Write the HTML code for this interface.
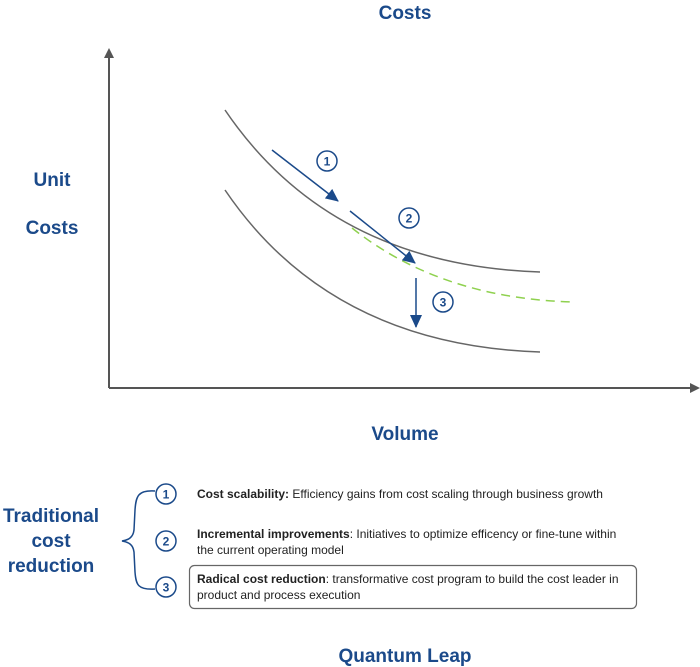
<!DOCTYPE html>
<html><head><meta charset="utf-8"><style>
body{margin:0;background:#fff;}
svg{display:block;font-family:"Liberation Sans",sans-serif;}
.t{fill:#1b4a8a;font-weight:bold;}
.s{font-size:12px;fill:#222;}
</style></head><body>
<svg width="700" height="667" viewBox="0 0 700 667">
<defs>
<marker id="ah" markerWidth="10" markerHeight="10" refX="8" refY="5" orient="auto" markerUnits="userSpaceOnUse"><path d="M0,0 L10,5 L0,10 z" fill="#555"/></marker>
<marker id="bh" markerWidth="14" markerHeight="14" refX="12" refY="7" orient="auto" markerUnits="userSpaceOnUse"><path d="M0,1 L13,7 L0,13 z" fill="#1b4a8a"/></marker>
</defs>
<text x="405" y="19" text-anchor="middle" class="t" font-size="19">Costs</text>
<line x1="109" y1="388" x2="109" y2="50" stroke="#555" stroke-width="2" marker-end="url(#ah)"/>
<line x1="109" y1="388" x2="698" y2="388" stroke="#555" stroke-width="2" marker-end="url(#ah)"/>
<text x="52" y="186" text-anchor="middle" class="t" font-size="19">Unit</text>
<text x="52" y="234" text-anchor="middle" class="t" font-size="19">Costs</text>
<path d="M225,110 Q330,265 540,272" fill="none" stroke="#666" stroke-width="1.5"/>
<path d="M225,190 Q330,345 540,352" fill="none" stroke="#666" stroke-width="1.5"/>
<path d="M352,228 Q440,298 572,302" fill="none" stroke="#8fd14f" stroke-width="1.5" stroke-dasharray="9,6"/>
<line x1="272" y1="150" x2="338" y2="201" stroke="#1b4a8a" stroke-width="1.5" marker-end="url(#bh)"/>
<line x1="350" y1="211" x2="415" y2="263" stroke="#1b4a8a" stroke-width="1.5" marker-end="url(#bh)"/>
<line x1="416" y1="278" x2="416" y2="327" stroke="#1b4a8a" stroke-width="1.5" marker-end="url(#bh)"/>
<g fill="none" stroke="#1b4a8a" stroke-width="1.5">
<circle cx="327" cy="161" r="10"/><circle cx="409" cy="218" r="10"/><circle cx="443" cy="302" r="10"/>
<circle cx="166" cy="494" r="10"/><circle cx="166" cy="541" r="10"/><circle cx="166" cy="587" r="10"/>
<path d="M155,491 C138,490 136,496 135,510 L134,530 C133,538 128,540 122,541 C128,542 133,544 134,552 L135,572 C136,585 138,590 155,589"/>
</g>
<g class="t" font-size="12" text-anchor="middle">
<text x="327" y="165.5">1</text><text x="409" y="222.5">2</text><text x="443" y="306.5">3</text>
<text x="166" y="498.5">1</text><text x="166" y="545.5">2</text><text x="166" y="591.5">3</text>
</g>
<text x="405" y="440" text-anchor="middle" class="t" font-size="19">Volume</text>
<g class="t" font-size="19" text-anchor="middle">
<text x="51" y="522">Traditional</text><text x="51" y="547">cost</text><text x="51" y="572">reduction</text>
</g>
<rect x="189.5" y="565.5" width="447" height="43" rx="5" fill="none" stroke="#666" stroke-width="1.2"/>
<text x="197" y="498" class="s"><tspan font-weight="bold">Cost scalability:</tspan> Efficiency gains from cost scaling through business growth</text>
<text x="197" y="538" class="s"><tspan font-weight="bold">Incremental improvements</tspan>: Initiatives to optimize efficency or fine-tune within</text>
<text x="197" y="554" class="s">the current operating model</text>
<text x="197" y="583" class="s"><tspan font-weight="bold">Radical cost reduction</tspan>: transformative cost program to build the cost leader in</text>
<text x="197" y="599" class="s">product and process execution</text>
<text x="405" y="662" text-anchor="middle" class="t" font-size="19">Quantum Leap</text>
</svg>
</body></html>
